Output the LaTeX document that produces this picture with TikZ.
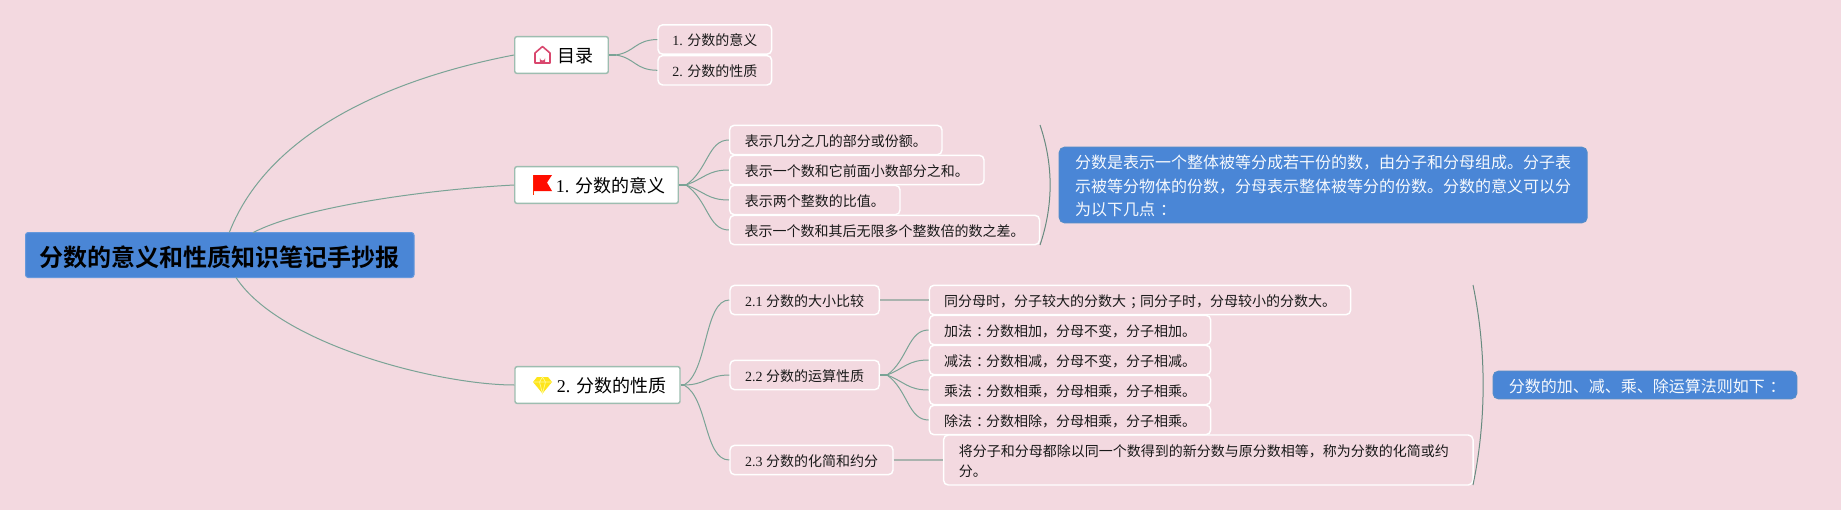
\documentclass[tikz,border=0pt]{standalone}
\usepackage{fontspec}
\setmainfont{Noto Sans CJK SC}[BoldFont={* Bold}]
\newfontfamily\lat{Liberation Serif}
\newcommand{\midp}[1]{\makebox[1em][l]{\kern.3em #1}}
\definecolor{bgc}{HTML}{F3D9E0}
\definecolor{bluec}{HTML}{4A86D6}
\definecolor{linec}{HTML}{7AA396}
\definecolor{edgec}{HTML}{9DBDB0}
\definecolor{grayl}{HTML}{A9B3AE}
\definecolor{homec}{HTML}{D9476E}
\tikzset{
  x=0.75pt,y=-0.75pt,
  w/.style={minimum width=#1*0.75pt},
  h/.style={minimum height=#1*0.75pt},
  rootbox/.style={fill=bluec,draw=bluec!85!white,line width=0.75pt,rounded corners=2pt,inner sep=0pt,font=\bfseries\fontsize{18pt}{22pt}\selectfont,text=black,text height=18.84pt,text depth=2.16pt},
  mainbox/.style={fill=white,draw=edgec,line width=1.1pt,rounded corners=1.5pt,inner sep=0pt,h=36.6,font=\fontsize{13.5pt}{16pt}\selectfont,text=black,text height=13.4pt,text depth=1.62pt},
  subbase/.style={draw=white,line width=1.1pt,rounded corners=3.5pt,inner sep=0pt,h=29.4,font=\fontsize{10.5pt}{13pt}\selectfont,text=black!90},
  subbox/.style={subbase,text height=10.74pt,text depth=1.26pt},
  descbox/.style={fill=bluec,draw=bluec!80!linec,line width=0.75pt,rounded corners=4pt,inner sep=0pt,font=\fontsize{12pt}{17.6pt}\selectfont,text=white!95!bluec},
  branch/.style={draw=linec,line width=0.75pt},
  stub/.style={draw=linec,line width=1.5pt},
  plain/.style={draw=grayl,line width=1.4pt},
  brace/.style={draw=linec!85!black,line width=0.75pt},
  homeicon/.pic={
    \draw[draw=homec,line width=1.2pt,line join=round] (-7.5,8) -- (-7.5,-2) -- (0,-8.5) -- (7.5,-2) -- (7.5,8) -- cycle;
    \fill[homec] (-2.6,8) -- (-2.6,3) arc[start angle=180,end angle=0,radius=2.6] -- (2.6,8) -- cycle;
  },
  flagicon/.pic={
    \draw[draw=red!60!orange,line width=0.8pt] (-9,-10) -- (-9,10);
    \fill[red!90!orange] (-9,-10) -- (9.5,-10) -- (4.5,-2.5) -- (9.5,6) -- (-9,6) -- cycle;
  },
  gemicon/.pic={
    \fill[yellow!85!orange!90!white] (-5.5,-8) -- (5.5,-8) -- (9.5,-3) -- (0,8.5) -- (-9.5,-3) -- cycle;
    \draw[white!60!yellow,line width=0.5pt] (-9.5,-3) -- (9.5,-3) (-3,-3) -- (0,8.5) -- (3,-3) (-3,-3) -- (0,-8) -- (3,-3);
  }
}
\begin{document}
\begin{tikzpicture}
\fill[bgc] (0,0) rectangle (1841,510);
\useasboundingbox (0,0) rectangle (1841,510);

\node[rootbox,w=388.5,h=45] (root) at (219.75,255) {分数的意义和性质知识笔记手抄报};

\node[mainbox,w=93.5] (toc) at (561.5,55) {\hspace*{21pt}目录};
\node[mainbox,w=163.5] (m1) at (596.5,185) {\hspace*{21pt}{\lat 1. }分数的意义};
\node[mainbox,w=165] (m2) at (597.5,385) {\hspace*{21pt}{\lat 2. }分数的性质};
\path (542.5,55) pic {homeicon};
\path (542.5,185) pic {flagicon};
\path (542.5,385) pic {gemicon};

\node[subbox,w=113.7] (t1) at (714.85,39.5) {{\lat 1. }分数的意义};
\node[subbox,w=113.7] (t2) at (714.85,70.3) {{\lat 2. }分数的性质};

\node[subbox,w=212.4] (a1) at (835.8,140) {表示几分之几的部分或份额。};
\node[subbox,w=254.4] (a2) at (856.8,170) {表示一个数和它前面小数部分之和。};
\node[subbox,w=170.4] (a3) at (814.8,200) {表示两个整数的比值。};
\node[subbox,w=310] (a4) at (884.6,230) {表示一个数和其后无限多个整数倍的数之差。};

\node[subbox,w=149.3] (b1) at (804.65,300) {{\lat 2.1 }分数的大小比较};
\node[subbox,w=149.3] (b2) at (804.65,375) {{\lat 2.2 }分数的运算性质};
\node[subbox,w=163] (b3) at (811.5,460) {{\lat 2.3 }分数的化简和约分};

\node[subbox,w=421.3] (c1) at (1140,300) {同分母时，分子较大的分数大\midp{；}同分子时，分母较小的分数大。};
\node[subbox,w=281.3] (d1) at (1070,330) {加法\midp{：}分数相加，分母不变，分子相加。};
\node[subbox,w=281.3] (d2) at (1070,360) {减法\midp{：}分数相减，分母不变，分子相减。};
\node[subbox,w=281.3] (d3) at (1070,390) {乘法\midp{：}分数相乘，分母相乘，分子相乘。};
\node[subbox,w=281.3] (d4) at (1070,420) {除法\midp{：}分数相除，分母相乘，分子相乘。};
\node[subbase,w=529.4,h=50,inner xsep=11.25pt,text width=374pt,align=left,font=\fontsize{10.5pt}{15pt}\selectfont] (e1) at (1208.3,460) {\rule{0pt}{10.74pt}将分子和分母都除以同一个数得到的新分数与原分数相等，称为分数的化简或约\\分。};

\node[descbox,w=528,h=75.7,inner xsep=12pt,text width=372pt,align=left] (n1) at (1323.2,185) {\rule{0pt}{12.06pt}分数是表示一个整体被等分成若干份的数，由分子和分母组成。分子表\\示被等分物体的份数，分母表示整体被等分的份数。分数的意义可以分\\为以下几点\midp{：}};
\node[descbox,w=303.7,h=27.7,text height=12.06pt,text depth=1.44pt] (n2) at (1644.9,385) {分数的加、减、乘、除运算法则如下\midp{：}};

% root connectors
\coordinate (r1) at (229.3,232.5);
\coordinate (r2) at (253.3,232.5);
\coordinate (r3) at (236,277.5);
\draw[branch] (r1) .. controls (270,128) and (399,77) .. (toc.west);
\draw[branch] (r2) .. controls (300,208) and (420,190) .. (m1.west);
\draw[branch] (r3) .. controls (280,345) and (440,385) .. (m2.west);

% stubs
\coordinate (st) at (616,55);
\coordinate (sm1) at (686,185);
\coordinate (sm2) at (684,385);
\coordinate (sb2) at (887,375);
\draw[stub] (toc.east) -- (st);
\draw[stub] (m1.east) -- (sm1);
\draw[stub] (m2.east) -- (sm2);
\draw[stub] (b2.east) -- (sb2);

\draw[branch] (st) .. controls (635,52) and (635,40) .. (t1.west);
\draw[branch] (st) .. controls (635,58) and (635,70) .. (t2.west);

\draw[branch] (sm1) .. controls (708,170) and (708,140) .. (a1.west);
\draw[branch] (sm1) .. controls (705,178) and (708,170) .. (a2.west);
\draw[branch] (sm1) .. controls (705,192) and (708,200) .. (a3.west);
\draw[branch] (sm1) .. controls (708,200) and (708,230) .. (a4.west);

\draw[branch] (sm2) .. controls (708,372) and (704,300) .. (b1.west);
\draw[branch] (sm2) .. controls (705,385) and (708,375) .. (b2.west);
\draw[branch] (sm2) .. controls (708,398) and (704,460) .. (b3.west);

\draw[branch] (sb2) .. controls (908,360) and (908,330) .. (d1.west);
\draw[branch] (sb2) .. controls (905,368) and (908,360) .. (d2.west);
\draw[branch] (sb2) .. controls (905,382) and (908,390) .. (d3.west);
\draw[branch] (sb2) .. controls (908,390) and (908,420) .. (d4.west);

\draw[plain] (b1.east) -- (c1.west);
\draw[plain] (b3.east) -- (e1.west);

% braces
\coordinate (ba) at (1040,125);
\coordinate (bb) at (1040,245);
\coordinate (bc) at (1473,285);
\coordinate (bd) at (1473,485);
\draw[brace] (ba) .. controls (1053.5,165) and (1053.5,205) .. (bb);
\draw[brace] (bc) .. controls (1486.5,350) and (1486.5,420) .. (bd);
\end{tikzpicture}
\end{document}
